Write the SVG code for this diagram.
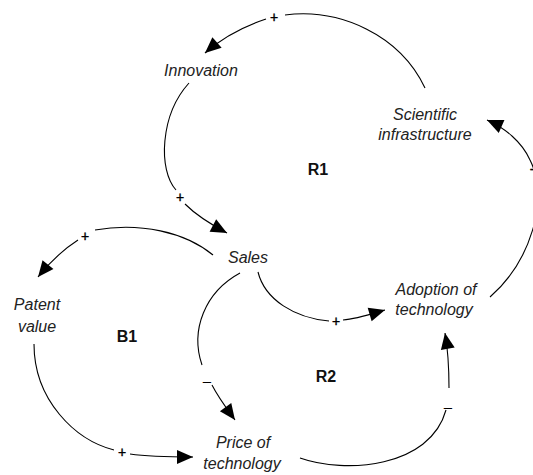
<svg xmlns="http://www.w3.org/2000/svg" width="533" height="475" viewBox="0 0 533 475">
  <style>
    .node { font-family: "Liberation Sans", Arial, sans-serif; font-size: 16px; font-style: italic; fill: #222; text-anchor: middle; }
    .loop { font-family: "Liberation Sans", Arial, sans-serif; font-size: 16px; font-weight: bold; fill: #111; text-anchor: middle; }
    .conn { fill: none; stroke: #000; stroke-width: 1.1; marker-end: url(#arrow); }
    .sign { font-family: "Liberation Sans", Arial, sans-serif; font-size: 14px; fill: #000; stroke: #000; stroke-width: 0.4; text-anchor: middle; }
    .dash { font-family: "Liberation Sans", Arial, sans-serif; font-size: 15px; fill: #000; text-anchor: middle; }
  </style>
  <defs>
    <marker id="arrow" markerUnits="userSpaceOnUse" markerWidth="18" markerHeight="16" viewBox="0 -8 17 16" refX="16" refY="0" orient="auto">
      <path d="M0,-7 L16,0 L0,7 Z" fill="#000"/>
    </marker>
  </defs>
  <rect width="533" height="475" fill="#fff"/>

  <g id="connectors">
    <path id="c-sci-innov" class="conn" d="M425,88 C400,35 340,8 285,15 M266,19 C245,26 222,38 205,53"/>
    <path id="c-innov-sales" class="conn" d="M189,83 C160,115 158,170 176,190 M185,204 C195,214 212,225 227,233"/>
    <path id="c-sales-patent" class="conn" d="M213,255 C185,232 140,222 95,230 M78,240 C64,249 50,262 38,277"/>
    <path id="c-patent-price" class="conn" d="M34,344 C34,400 75,440 114,450 M130,454 C150,457 170,457 193,457"/>
    <path id="c-sales-price" class="conn" d="M240,273 C205,292 190,330 202,365 M212,385 C218,397 227,409 235,420"/>
    <path id="c-sales-adopt" class="conn" d="M258,272 C265,300 295,318 329,321 M343,320 C356,319 368,315 385,310"/>
    <path id="c-price-adopt" class="conn" d="M300,458 C345,474 430,468 446,410 M449,388 C449,370 448,350 445,333"/>
    <path id="c-adopt-sci" class="conn" d="M490,297 C530,262 550,200 530,160 C522,142 505,128 487,120"/>

    <text class="sign" x="274" y="22">+</text>
    <text class="sign" x="180" y="202">+</text>
    <text class="sign" x="85" y="241">+</text>
    <text class="sign" x="122" y="457">+</text>
    <text class="sign" x="336" y="326">+</text>
    <text class="dash" x="207" y="386">–</text>
    <text class="dash" x="448" y="412">–</text>
    <text class="sign" x="532" y="174">-</text>
  </g>

  <g id="innovation">
    <text class="node" x="201" y="76">Innovation</text>
  </g>
  <g id="scientific-infrastructure">
    <text class="node" x="425" y="120">Scientific</text>
    <text class="node" x="425" y="140">infrastructure</text>
  </g>
  <g id="sales">
    <text class="node" x="248" y="263">Sales</text>
  </g>
  <g id="patent-value">
    <text class="node" x="37" y="310">Patent</text>
    <text class="node" x="37" y="332">value</text>
  </g>
  <g id="adoption-of-technology">
    <text class="node" x="436" y="295">Adoption of</text>
    <text class="node" x="434" y="315">technology</text>
  </g>
  <g id="price-of-technology">
    <text class="node" x="243" y="448">Price of</text>
    <text class="node" x="242" y="469">technology</text>
  </g>

  <g id="loop-labels">
    <text class="loop" x="318" y="175">R1</text>
    <text class="loop" x="127" y="342">B1</text>
    <text class="loop" x="326" y="382">R2</text>
  </g>
</svg>
